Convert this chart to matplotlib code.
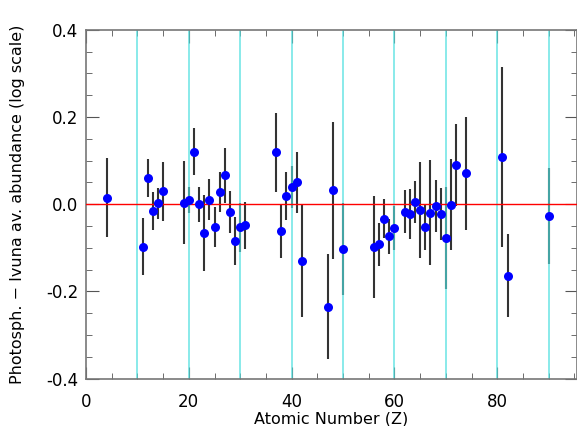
import numpy as np
import matplotlib
matplotlib.use('Agg')
import matplotlib.pyplot as plt
from matplotlib.ticker import MultipleLocator, FormatStrFormatter

# atomic number, photospheric minus Ivuna abundance (dex), 1-sigma error
Z = [4, 11, 12, 13, 14, 15, 19, 20, 21, 22, 23, 24, 25, 26, 27, 28, 29, 30, 31,
     37, 38, 39, 40, 41, 42, 47, 48, 50,
     56, 57, 58, 59, 60, 62, 63, 64, 65, 66, 67, 68, 69, 70, 71, 72, 74,
     81, 82, 90]
diff = [0.015, -0.097, 0.060, -0.015, 0.002, 0.030, 0.004, 0.010, 0.120, 0.000,
        -0.065, 0.010, -0.052, 0.028, 0.066, -0.018, -0.084, -0.053, -0.048,
        0.119, -0.062, 0.019, 0.040, 0.050, -0.130, -0.235, 0.032, -0.102,
        -0.098, -0.092, -0.033, -0.073, -0.054, -0.017, -0.022, 0.005, -0.014,
        -0.052, -0.019, -0.004, -0.023, -0.078, -0.001, 0.090, 0.071,
        0.108, -0.164, -0.027]
err = [0.090, 0.065, 0.043, 0.043, 0.035, 0.068, 0.095, 0.030, 0.054, 0.040,
       0.087, 0.047, 0.046, 0.045, 0.064, 0.048, 0.055, 0.056, 0.054,
       0.091, 0.062, 0.054, 0.048, 0.070, 0.128, 0.120, 0.157, 0.105,
       0.117, 0.050, 0.045, 0.040, 0.050, 0.049, 0.058, 0.048, 0.110,
       0.053, 0.120, 0.060, 0.060, 0.117, 0.104, 0.094, 0.130,
       0.207, 0.095, 0.110]
decades = [10, 20, 30, 40, 50, 60, 70, 80, 90]

fig = plt.figure(figsize=(5.77, 4.26), dpi=100)
ax = fig.add_axes([0.149, 0.111, 0.851, 0.819])
ax.set_axisbelow(True)

ax.errorbar(Z, diff, yerr=err, fmt='none', ecolor='#333333', elinewidth=1.5,
            capsize=0, zorder=1)
for z in decades:
    ax.axvline(z, color='#50e0e0', lw=1.1, alpha=0.85, zorder=2)
ax.axhline(0, color='red', lw=1.0, zorder=3)
ax.plot(Z, diff, 'o', color='blue', markersize=6.5, markeredgewidth=0, zorder=4)

ax.set_xlim(0, 95.5)
ax.set_ylim(-0.4, 0.4)
ax.xaxis.set_major_locator(MultipleLocator(20))
ax.xaxis.set_minor_locator(MultipleLocator(5))
ax.yaxis.set_major_locator(MultipleLocator(0.2))
ax.yaxis.set_minor_locator(MultipleLocator(0.05))
ax.yaxis.set_major_formatter(FormatStrFormatter('%.1f'))
ax.tick_params(which='both', direction='in', top=True, right=True,
               color='#555555', labelsize=12)
ax.tick_params(axis='x', which='major', pad=10)
ax.tick_params(axis='y', which='major', pad=5.5)
ax.tick_params(which='major', length=9)
ax.tick_params(which='minor', length=4.5)
for s in ax.spines.values():
    s.set_color('#777777')
    s.set_linewidth(1.2)

ax.set_xlabel('Atomic Number (Z)', fontsize=11.5)
ax.set_ylabel('Photosph. \u2212 Ivuna av. abundance (log scale)', fontsize=11.5)
ax.xaxis.set_label_coords(0.5, -0.093)
ax.yaxis.set_label_coords(-0.124, 0.5)

fig.savefig('out.png', dpi=100)
